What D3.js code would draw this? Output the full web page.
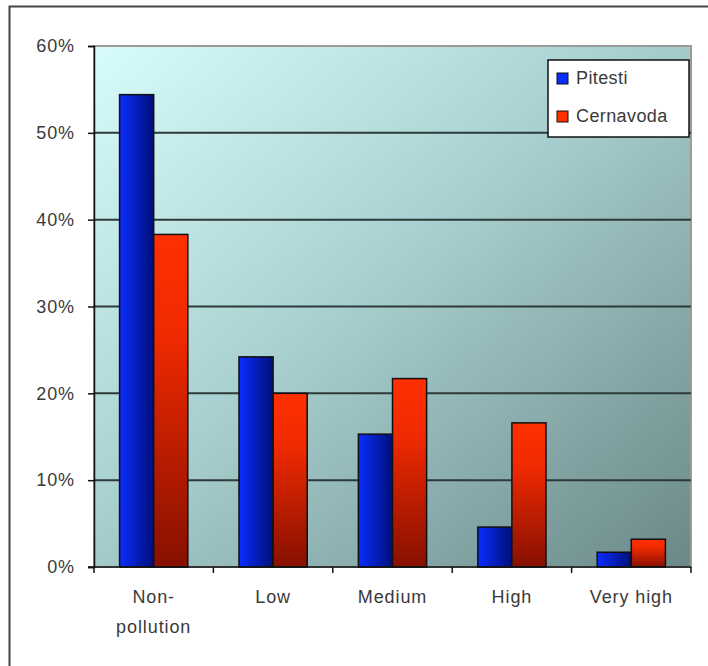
<!DOCTYPE html>
<html>
<head>
<meta charset="utf-8">
<script src="https://cdn.jsdelivr.net/npm/d3@7"></script>
<style>
  html, body { margin: 0; padding: 0; background: #fff; }
  svg { display: block; }
  text { font-family: "Liberation Sans", Arial, sans-serif; fill: #333; }
</style>
</head>
<body>
<svg id="chart" width="708" height="666"></svg>
<script>
// Share of sites per pollution class, two locations
const categories = [["Non-", "pollution"], ["Low"], ["Medium"], ["High"], ["Very high"]];
const seriesNames = ["Pitesti", "Cernavoda"];
const pitesti = [54.4, 24.2, 15.3, 4.6, 1.7];
const cernavoda = [38.3, 20.0, 21.7, 16.6, 3.2];
const yTicks = [0, 10, 20, 30, 40, 50, 60];

const svg = d3.select("#chart");
const margin = { left: 94, top: 46, right: 691, bottom: 567 };
const FONT = 18;
const textStyle = sel => sel.attr("font-size", FONT).attr("letter-spacing", 0.9)
  .style("fill", "#3a3a3a").attr("font-family", "Liberation Sans, Arial, sans-serif");

// Frame around the whole chart
svg.append("rect").attr("x", 9.5).attr("y", 6.5).attr("width", 720).attr("height", 700)
  .attr("fill", "none").attr("stroke", "#444").attr("stroke-width", 2);

const defs = svg.append("defs");
const bg = defs.append("linearGradient").attr("id", "bg")
  .attr("x1", "0%").attr("y1", "0%").attr("x2", "100%").attr("y2", "100%");
bg.append("stop").attr("offset", "0%").attr("stop-color", "#d8fcfc");
bg.append("stop").attr("offset", "45%").attr("stop-color", "#a9d0d0");
bg.append("stop").attr("offset", "100%").attr("stop-color", "#6b8888");

const gBlue = defs.append("linearGradient").attr("id", "gBlue")
  .attr("x1", "0%").attr("y1", "0%").attr("x2", "100%").attr("y2", "0%");
gBlue.append("stop").attr("offset", "0%").attr("stop-color", "#0a2dff");
gBlue.append("stop").attr("offset", "100%").attr("stop-color", "#000f78");

const gRed = defs.append("linearGradient").attr("id", "gRed")
  .attr("x1", "0%").attr("y1", "0%").attr("x2", "0%").attr("y2", "100%");
gRed.append("stop").attr("offset", "0%").attr("stop-color", "#ff3000");
gRed.append("stop").attr("offset", "30%").attr("stop-color", "#f02a00");
gRed.append("stop").attr("offset", "100%").attr("stop-color", "#861000");

const x = d3.scaleBand().domain(d3.range(categories.length))
  .range([margin.left, margin.right]).paddingInner(0).paddingOuter(0);
const y = d3.scaleLinear().domain([0, 60]).range([margin.bottom, margin.top]);

// Plot area
svg.append("rect").attr("x", margin.left).attr("y", margin.top)
  .attr("width", margin.right - margin.left).attr("height", margin.bottom - margin.top)
  .attr("fill", "url(#bg)").attr("stroke", "#9a9a9a").attr("stroke-width", 2);

// Gridlines
svg.append("g").selectAll("line").data(yTicks.filter(d => d > 0 && d < 60)).join("line")
  .attr("x1", margin.left).attr("x2", margin.right)
  .attr("y1", d => y(d)).attr("y2", d => y(d))
  .attr("stroke", "#2e3a3a").attr("stroke-width", 2);

// Bars: two per category, Excel-style 150% gap
const bw = x.bandwidth() / 3.5;
const groups = svg.append("g").selectAll("g").data(d3.range(categories.length)).join("g");
groups.append("rect")
  .attr("x", i => x(i) + bw * 0.75).attr("y", i => y(pitesti[i]))
  .attr("width", bw).attr("height", i => y(0) - y(pitesti[i]))
  .attr("fill", "url(#gBlue)").attr("stroke", "#111").attr("stroke-width", 1.5);
groups.append("rect")
  .attr("x", i => x(i) + bw * 1.75).attr("y", i => y(cernavoda[i]))
  .attr("width", bw).attr("height", i => y(0) - y(cernavoda[i]))
  .attr("fill", "url(#gRed)").attr("stroke", "#111").attr("stroke-width", 1.5);

// Y axis
const yAxis = svg.append("g").attr("transform", `translate(${margin.left},0)`)
  .call(d3.axisLeft(y).tickValues(yTicks).tickFormat(d => d + "%").tickSize(6).tickPadding(13));
yAxis.select(".domain").attr("stroke", "#111").attr("stroke-width", 1.5);
yAxis.selectAll(".tick line").attr("stroke", "#111").attr("stroke-width", 1.5);
yAxis.selectAll("text").call(textStyle);

// X axis
const xAxisG = svg.append("g");
xAxisG.append("line").attr("x1", margin.left - 6).attr("x2", margin.right)
  .attr("y1", margin.bottom).attr("y2", margin.bottom)
  .attr("stroke", "#111").attr("stroke-width", 1.5);
const tickXs = d3.range(categories.length + 1).map(i => i < categories.length ? x(i) : margin.right);
xAxisG.selectAll("line.t").data(tickXs).join("line").attr("class", "t")
  .attr("x1", d => d).attr("x2", d => d)
  .attr("y1", margin.bottom).attr("y2", margin.bottom + 6)
  .attr("stroke", "#111").attr("stroke-width", 1.5);
const lbl = xAxisG.selectAll("text").data(categories).join("text")
  .attr("text-anchor", "middle").call(textStyle)
  .attr("x", (d, i) => x(i) + x.bandwidth() / 2).attr("y", 603);
lbl.selectAll("tspan").data(d => d).join("tspan")
  .attr("x", function () { return d3.select(this.parentNode).attr("x"); })
  .attr("dy", (d, j) => j === 0 ? 0 : 30).text(d => d);

// Legend
const lg = svg.append("g").attr("transform", "translate(548,60)");
lg.append("rect").attr("width", 141).attr("height", 77)
  .attr("fill", "#fff").attr("stroke", "#111").attr("stroke-width", 1.5);
seriesNames.forEach((name, i) => {
  const row = lg.append("g").attr("transform", `translate(0,${i === 0 ? 18 : 56})`);
  row.append("rect").attr("x", 9).attr("y", -5).attr("width", 11).attr("height", 11)
    .attr("fill", i === 0 ? "#0a2dff" : "#ff3000").attr("stroke", "#111").attr("stroke-width", 1);
  row.append("text").attr("x", 28).attr("y", 6).call(textStyle).attr("letter-spacing", 0.4).text(name);
});
</script>
</body>
</html>
